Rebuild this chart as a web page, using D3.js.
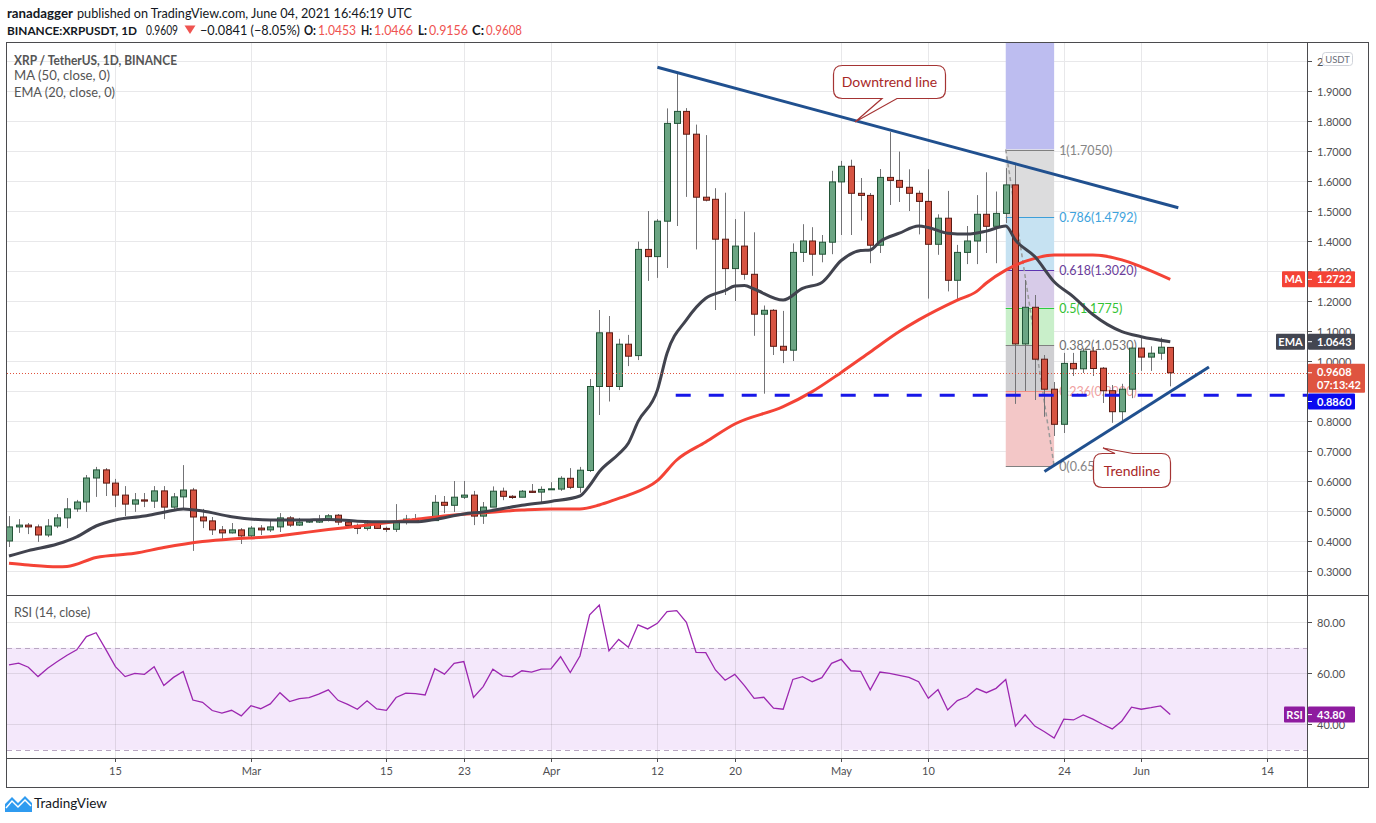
<!DOCTYPE html>
<html><head><meta charset="utf-8">
<script src="https://cdn.jsdelivr.net/npm/d3@7"></script>
<style>
body{margin:0;background:#fff;}
svg{display:block;}
text{font-family:Lato,"Open Sans",sans-serif;}
</style>
</head><body>
<svg id="c" width="1376" height="823"></svg>
<script>
// ---------------- DATA ----------------
const startDate = "2021-02-04";
const endDate = "2021-06-04";
const open = [0.400,0.447,0.453,0.447,0.420,0.450,0.477,0.507,0.530,0.610,0.637,
0.593,0.553,0.523,0.537,0.533,0.567,0.513,0.547,0.570,0.480,0.467,0.437,0.427,0.437,
0.417,0.443,0.437,0.447,0.477,0.453,0.463,0.463,0.473,0.486,0.463,0.452,0.442,0.457,0.442,0.439,0.463,0.473,0.473,0.468,0.529,0.519,0.546,0.553,0.483,0.513,0.566,0.549,0.546,0.566,0.563,
0.572,0.573,0.609,0.579,0.635,0.915,1.094,0.915,1.056,1.018,1.372,1.348,1.466,1.792,1.832,1.756,1.546,1.539,1.406,1.308,1.383,1.289,1.156,1.169,1.049,1.036,1.362,1.400,1.356,1.396,
1.597,1.649,1.559,1.552,1.386,1.612,1.602,1.579,1.559,1.532,1.389,1.476,1.269,1.362,1.400,1.489,1.449,1.492,1.587,1.057,1.179,1.006,0.906,0.789,0.992,0.974,1.033,0.976,0.901,0.831,0.906,
1.043,1.013,1.026,1.0453];
const high = [0.483,0.473,0.460,0.455,0.473,0.490,0.543,0.537,0.620,0.647,0.643,
0.607,0.583,0.560,0.560,0.583,0.583,0.560,0.653,0.577,0.507,0.480,0.450,0.460,0.443,
0.450,0.453,0.470,0.493,0.483,0.477,0.470,0.487,0.490,0.490,0.470,0.458,0.470,0.465,0.448,0.523,0.487,0.490,0.478,0.553,0.550,0.600,0.600,0.567,0.530,0.582,0.578,0.553,0.570,0.590,0.582,
0.596,0.616,0.643,0.647,0.940,1.170,1.150,1.074,1.087,1.398,1.500,1.473,1.842,1.957,1.843,1.788,1.753,1.576,1.561,1.473,1.498,1.429,1.185,1.173,1.167,1.392,1.456,1.446,1.420,1.634,
1.667,1.671,1.610,1.560,1.640,1.763,1.698,1.639,1.568,1.639,1.489,1.567,1.387,1.450,1.553,1.629,1.565,1.643,1.653,1.270,1.220,1.020,0.930,1.027,1.027,1.042,1.047,0.980,0.920,0.924,1.049,
1.080,1.049,1.078,1.0466];
const low = [0.380,0.427,0.423,0.397,0.413,0.443,0.443,0.497,0.497,0.547,0.550,
0.513,0.483,0.497,0.513,0.510,0.473,0.503,0.510,0.367,0.443,0.420,0.407,0.425,0.390,
0.410,0.420,0.430,0.430,0.447,0.450,0.460,0.460,0.465,0.453,0.443,0.423,0.435,0.440,0.430,0.430,0.455,0.465,0.465,0.468,0.493,0.497,0.540,0.453,0.457,0.513,0.536,0.540,0.546,0.560,0.527,
0.570,0.567,0.573,0.561,0.630,0.820,0.865,0.903,0.983,1.003,1.267,1.277,1.310,1.450,1.547,1.372,1.532,1.170,1.220,1.200,1.271,1.084,0.891,1.020,0.993,1.000,1.330,1.284,1.329,1.356,
1.420,1.420,1.468,1.326,1.360,1.520,1.530,1.500,1.422,1.208,1.354,1.232,1.207,1.323,1.323,1.360,1.326,1.460,0.857,0.900,0.870,0.814,0.750,0.760,0.950,0.960,0.950,0.860,0.794,0.802,0.876,
0.967,0.967,1.004,0.9156];
const close = [0.447,0.453,0.447,0.420,0.450,0.477,0.507,0.530,0.610,0.637,0.593,
0.553,0.523,0.537,0.533,0.567,0.513,0.547,0.570,0.480,0.467,0.437,0.427,0.437,0.417,
0.443,0.437,0.447,0.477,0.453,0.463,0.467,0.470,0.484,0.463,0.452,0.442,0.457,0.442,0.439,0.463,0.473,0.468,0.468,0.529,0.519,0.546,0.553,0.483,0.513,0.566,0.549,0.545,0.566,0.562,0.572,
0.574,0.609,0.579,0.636,0.915,1.094,0.915,1.056,1.016,1.372,1.348,1.466,1.792,1.832,1.756,1.546,1.536,1.406,1.308,1.383,1.289,1.156,1.169,1.049,1.036,1.362,1.400,1.356,1.396,1.597,
1.649,1.559,1.552,1.386,1.612,1.602,1.579,1.559,1.532,1.389,1.476,1.269,1.362,1.400,1.489,1.449,1.492,1.587,1.057,1.179,1.006,0.906,0.789,0.992,0.974,1.033,0.975,0.901,0.831,0.906,1.043,
1.013,1.026,1.046,0.9608];
const rsi = [63.3,64.0,62.4,58.7,62.0,64.6,67.1,69.2,74.4,75.9,69.4,
62.6,58.7,60.0,59.6,62.6,55.2,58.4,60.7,49.5,48.6,45.4,44.4,45.5,43.3,
47.3,46.1,48.0,52.4,48.9,50.1,50.5,51.8,53.5,49.4,47.8,45.9,49.2,46.0,45.5,50.5,52.2,52.0,51.5,61.8,59.7,63.9,64.6,50.5,54.8,61.6,59.0,58.6,61.0,60.5,61.6,
61.7,66.5,60.3,66.8,82.9,86.8,68.8,73.3,70.2,79.0,77.4,79.6,84.2,84.6,80.0,68.2,
68.1,61.3,57.3,59.6,55.2,50.2,50.6,46.3,45.9,57.6,58.7,56.7,58.3,63.9,
65.5,61.0,60.8,53.5,60.5,60.0,59.2,58.4,56.7,50.2,53.6,45.6,49.3,50.8,54.0,52.4,54.1,57.6,39.3,43.7,39.3,37.1,34.6,42.0,41.7,43.7,42.0,40.0,38.2,41.3,46.7,
45.9,46.5,47.2,43.8];
const maDates = ["2021-02-04","2021-02-06","2021-02-09","2021-02-10","2021-02-13","2021-02-17","2021-02-20","2021-02-24","2021-02-27","2021-03-03","2021-03-06","2021-03-09","2021-03-12","2021-03-15","2021-03-18","2021-03-22","2021-03-25","2021-03-29","2021-04-01","2021-04-04","2021-04-06","2021-04-08","2021-04-09","2021-04-12","2021-04-14","2021-04-17","2021-04-20","2021-04-25","2021-04-28","2021-05-01","2021-05-04","2021-05-07","2021-05-09","2021-05-13","2021-05-15","2021-05-16","2021-05-18","2021-05-21","2021-05-23","2021-05-27","2021-05-30","2021-06-01","2021-06-04"];
const maValues = [0.326,0.320,0.314,0.315,0.345,0.359,0.378,0.398,0.407,0.414,0.426,0.438,0.449,0.461,0.472,0.487,0.494,0.503,0.507,0.507,0.520,0.542,0.553,0.601,0.670,0.730,0.790,0.848,0.898,0.962,1.030,1.098,1.137,1.203,1.232,1.260,1.303,1.342,1.353,1.353,1.337,1.314,1.2722];
const emaDates = ["2021-02-04","2021-02-06","2021-02-09","2021-02-11","2021-02-13","2021-02-15","2021-02-18","2021-02-20","2021-02-22","2021-02-24","2021-02-27","2021-03-03","2021-03-06","2021-03-09","2021-03-12","2021-03-15","2021-03-18","2021-03-20","2021-03-23","2021-03-25","2021-03-29","2021-04-01","2021-04-04","2021-04-05","2021-04-06","2021-04-08","2021-04-09","2021-04-10","2021-04-12","2021-04-13","2021-04-15","2021-04-17","2021-04-19","2021-04-20","2021-04-21","2021-04-22","2021-04-25","2021-04-27","2021-04-29","2021-05-01","2021-05-03","2021-05-04","2021-05-05","2021-05-07","2021-05-09","2021-05-10","2021-05-12","2021-05-14","2021-05-16","2021-05-18","2021-05-19","2021-05-21","2021-05-23","2021-05-25","2021-05-27","2021-05-30","2021-06-01","2021-06-04"];
const emaValues = [0.350,0.368,0.390,0.414,0.450,0.470,0.483,0.496,0.507,0.500,0.481,0.470,0.470,0.472,0.466,0.464,0.464,0.472,0.490,0.497,0.519,0.532,0.550,0.585,0.631,0.690,0.726,0.798,0.903,1.026,1.137,1.209,1.235,1.250,1.252,1.240,1.203,1.242,1.262,1.335,1.368,1.370,1.398,1.426,1.450,1.445,1.426,1.423,1.433,1.450,1.403,1.348,1.264,1.214,1.155,1.098,1.081,1.0643];
const priceTicks = [0.3,0.4,0.5,0.6,0.7,0.8,0.9,1.0,1.1,1.2,1.3,1.4,1.5,1.6,1.7,1.8,1.9,2.0];
const rsiTicks = [40,60,80];
const timeTickDates = ["2021-02-15","2021-03-01","2021-03-15","2021-03-23","2021-04-01","2021-04-12","2021-04-20","2021-05-01","2021-05-10","2021-05-24","2021-06-01","2021-06-14"];
const timeTickLabels = ["15","Mar","15","23","Apr","12","20","May","10","24","Jun","14"];
const fibLevels = [1,0.786,0.618,0.5,0.382,0.236,0];
const fibPrices = [1.7050,1.4792,1.3020,1.1775,1.0530,0.8990,0.6500];
const fibStart = "2021-05-18", fibEnd = "2021-05-23";
const downtrend = {d1:"2021-04-12", p1:1.979, d2:"2021-06-04T20:00", p2:1.511};
const trendline = {d1:"2021-05-22", p1:0.632, d2:"2021-06-08", p2:0.980};
const supportLevel = 0.886, supportStart = "2021-04-14";
const lastPrice = 0.9608, maLast = 1.2722, emaLast = 1.0643, rsiLast = 43.80;

// ---------------- LAYOUT ----------------
const W=1376,H=823, L=7, R=1307, T=43, MB=595, RB=758, AB=787, OR=1369;
const svg = d3.select("#c");
svg.append("rect").attr("width",W).attr("height",H).attr("fill","#fff");

const parse = s => new Date(s.length>10 ? s+":00Z" : s+"T00:00:00Z");
const days = d3.utcDay.range(parse(startDate), d3.utcDay.offset(parse(endDate),1));
const ref = parse("2021-02-15");
const x = d3.scaleUtc().domain([new Date(+ref - 11.206*864e5), new Date(+ref + 123.13*864e5)]).range([L,R]);
const y = d3.scaleLinear().domain([0.22,2.06]).range([MB,T]);
const yr = d3.scaleLinear().domain([26.78,90.71]).range([RB,MB]);

const defs = svg.append("defs");
defs.append("clipPath").attr("id","cm").append("rect").attr("x",L).attr("y",T).attr("width",R-L).attr("height",MB-T);
defs.append("clipPath").attr("id","cr").append("rect").attr("x",L).attr("y",MB).attr("width",R-L).attr("height",RB-MB);

const gridC = "#e8e8ea";
const gMain = svg.append("g").attr("clip-path","url(#cm)");
gMain.selectAll(".hg").data(priceTicks).join("line").attr("x1",L).attr("x2",R)
  .attr("y1",d=>Math.round(y(d))+0.5).attr("y2",d=>Math.round(y(d))+0.5).attr("stroke",gridC);
gMain.selectAll(".vg").data(timeTickDates).join("line").attr("y1",T).attr("y2",MB)
  .attr("x1",d=>Math.round(x(parse(d)))+0.5).attr("x2",d=>Math.round(x(parse(d)))+0.5).attr("stroke",gridC);

// RSI pane
const gR = svg.append("g").attr("clip-path","url(#cr)");
gR.append("rect").attr("x",L).attr("width",R-L).attr("y",yr(70)).attr("height",yr(30)-yr(70)).attr("fill","#f4e8fb");
gR.selectAll(".rh").data(rsiTicks).join("line").attr("x1",L).attr("x2",R)
  .attr("y1",d=>Math.round(yr(d))+0.5).attr("y2",d=>Math.round(yr(d))+0.5).attr("stroke","rgba(0,0,0,0.09)");
gR.selectAll(".rv").data(timeTickDates).join("line").attr("y1",MB).attr("y2",RB)
  .attr("x1",d=>Math.round(x(parse(d)))+0.5).attr("x2",d=>Math.round(x(parse(d)))+0.5).attr("stroke","rgba(0,0,0,0.09)");
gR.selectAll(".rd").data([70,30]).join("line").attr("x1",L).attr("x2",R)
  .attr("y1",d=>Math.round(yr(d))+0.5).attr("y2",d=>Math.round(yr(d))+0.5)
  .attr("stroke","#b9a7c2").attr("stroke-dasharray","5,4");
gR.append("path").datum(rsi).attr("fill","none").attr("stroke","#9c27b0").attr("stroke-width",1.3)
  .attr("d", d3.line().x((d,i)=>x(days[i])).y(d=>yr(d)));

// ---------------- FIB ----------------
const gF = svg.append("g").attr("clip-path","url(#cm)");
const fx1 = x(parse(fibStart)), fx2 = x(parse(fibEnd));
const bandColors = ["#dcdcdd","#c6e2f2","#d7cbe8","#c9efca","#cfcfd2","#f3c7c7"];
gF.append("rect").attr("x",fx1).attr("width",fx2-fx1).attr("y",T).attr("height",y(fibPrices[0])-T).attr("fill","#bdbdf0");
for(let i=0;i<fibPrices.length-1;i++){
  gF.append("rect").attr("x",fx1).attr("width",fx2-fx1).attr("y",y(fibPrices[i]))
    .attr("height",y(fibPrices[i+1])-y(fibPrices[i])).attr("fill",bandColors[i]);
}
const lineColors = ["#808080","#3d9fd9","#5e35b1","#2ecc40","#808080","#f28b82","#808080"];
const labelColors = ["#858585","#3ea3dd","#6a3d9a","#33c233","#707070","#f0a0a0","#858585"];
fibLevels.forEach((lv,i)=>{
  const yy = Math.round(y(fibPrices[i]))+0.5;
  gF.append("line").attr("x1",fx1).attr("x2",fx2).attr("y1",yy).attr("y2",yy).attr("stroke",lineColors[i]).attr("stroke-width",1);
  gF.append("text").attr("x",fx2+5).attr("y",yy+4.5).attr("font-size",12.5).attr("fill",labelColors[i])
    .text(`${lv}(${fibPrices[i].toFixed(4)})`);
});
gF.append("line").attr("x1",fx1).attr("y1",y(fibPrices[0])).attr("x2",fx2).attr("y2",y(fibPrices[fibPrices.length-1]))
  .attr("stroke","#9a9a9a").attr("stroke-width",1.5).attr("stroke-dasharray","4,3");

// ---------------- CANDLES ----------------
const gC = svg.append("g").attr("clip-path","url(#cm)");
const bw = 6;
days.forEach((d,i)=>{
  const cx = Math.round(x(d))+0.5;
  const up = close[i] >= open[i];
  gC.append("line").attr("x1",cx).attr("x2",cx).attr("y1",y(high[i])).attr("y2",y(low[i])).attr("stroke","#737376").attr("stroke-width",1);
  const top = y(Math.max(open[i],close[i])), bot = y(Math.min(open[i],close[i]));
  gC.append("rect").attr("x",cx-bw/2).attr("width",bw).attr("y",top).attr("height",Math.max(1,bot-top))
    .attr("fill", up ? "#6ba583" : "#d75442").attr("stroke", up ? "#225437" : "#5b1a13").attr("stroke-width",1);
});

// ---------------- MA / EMA ----------------
const maPts = maDates.map((d,i)=>({d:parse(d),v:maValues[i]}));
const emaPts = emaDates.map((d,i)=>({d:parse(d),v:emaValues[i]}));
const ln = d3.line().x(p=>x(p.d)).y(p=>y(p.v)).curve(d3.curveMonotoneX);
gC.append("path").datum(maPts).attr("d",ln).attr("fill","none").attr("stroke","#f44336").attr("stroke-width",3).attr("stroke-linejoin","round");
gC.append("path").datum(emaPts).attr("d",ln).attr("fill","none").attr("stroke","#41434e").attr("stroke-width",3).attr("stroke-linejoin","round");

// ---------------- DRAWINGS ----------------
gC.append("line").attr("x1",x(parse(supportStart))-1).attr("x2",R).attr("y1",y(supportLevel)).attr("y2",y(supportLevel))
  .attr("stroke","#1717e8").attr("stroke-width",3).attr("stroke-dasharray","15,18");
gC.append("line").attr("x1",L).attr("x2",R).attr("y1",Math.round(y(lastPrice))+0.5).attr("y2",Math.round(y(lastPrice))+0.5)
  .attr("stroke","#e0533d").attr("stroke-width",1).attr("stroke-dasharray","1,2");
gC.append("line").attr("x1",x(parse(downtrend.d1))).attr("y1",y(downtrend.p1)).attr("x2",x(parse(downtrend.d2))).attr("y2",y(downtrend.p2))
  .attr("stroke","#20508f").attr("stroke-width",3);
gC.append("line").attr("x1",x(parse(trendline.d1))).attr("y1",y(trendline.p1)).attr("x2",x(parse(trendline.d2))).attr("y2",y(trendline.p2))
  .attr("stroke","#20508f").attr("stroke-width",3);

function callout(x1,y1,x2,y2,r,edge,b1,b2,tx,ty,label){
  let p;
  if(edge==="bottom"){
    p=`M${x1+r},${y1}H${x2-r}Q${x2},${y1} ${x2},${y1+r}V${y2-r}Q${x2},${y2} ${x2-r},${y2}H${b2}L${tx},${ty}L${b1},${y2}H${x1+r}Q${x1},${y2} ${x1},${y2-r}V${y1+r}Q${x1},${y1} ${x1+r},${y1}Z`;
  } else {
    p=`M${x1+r},${y1}H${b1}L${tx},${ty}L${b2},${y1}H${x2-r}Q${x2},${y1} ${x2},${y1+r}V${y2-r}Q${x2},${y2} ${x2-r},${y2}H${x1+r}Q${x1},${y2} ${x1},${y2-r}V${y1+r}Q${x1},${y1} ${x1+r},${y1}Z`;
  }
  svg.append("path").attr("d",p).attr("fill","#fff").attr("stroke","#a53434").attr("stroke-width",1.2);
  svg.append("text").attr("x",(x1+x2)/2).attr("y",(y1+y2)/2+5).attr("text-anchor","middle")
    .attr("font-size",14).attr("fill","#a82828").text(label);
}
callout(833.5,65.5,945.5,98.5,9,"bottom",882,897,855,122,"Downtrend line");
callout(1093.5,453.5,1170.5,487.5,9,"top",1115,1133,1103,448,"Trendline");

// ---------------- AXES / FRAME ----------------
svg.append("rect").attr("x",R+1).attr("y",T).attr("width",OR-R-1).attr("height",AB-T).attr("fill","#fff");
svg.append("rect").attr("x",L).attr("y",RB+1).attr("width",R-L).attr("height",AB-RB-1).attr("fill","#fff");
const axC="#4f4f52";
const gA = svg.append("g");
const hiddenTicks = [0.9];   // covered by the price labels in the reference
priceTicks.forEach(p=>{
  const yy=Math.round(y(p))+0.5;
  gA.append("line").attr("x1",R).attr("x2",R+5).attr("y1",yy).attr("y2",yy).attr("stroke",axC);
  if(hiddenTicks.includes(p)) return;
  const lbl = p===2.0 ? "2" : p.toFixed(4);   // rest hidden under the USDT box
  gA.append("text").attr("x",R+10).attr("y",yy+4).attr("font-size",11).attr("fill",axC).text(lbl);
});
rsiTicks.forEach(v=>{
  const yy=Math.round(yr(v))+0.5;
  gA.append("line").attr("x1",R).attr("x2",R+5).attr("y1",yy).attr("y2",yy).attr("stroke",axC);
  gA.append("text").attr("x",R+10).attr("y",yy+4).attr("font-size",11).attr("fill",axC).text(v.toFixed(2));
});
timeTickDates.forEach((d,i)=>{
  const xx=Math.round(x(parse(d)))+0.5;
  gA.append("line").attr("x1",xx).attr("x2",xx).attr("y1",RB).attr("y2",RB+4).attr("stroke",axC);
  gA.append("text").attr("x",xx).attr("y",775).attr("text-anchor","middle").attr("font-size",11).attr("fill",axC).text(timeTickLabels[i]);
});
gA.append("rect").attr("x",1322.5).attr("y",52.5).attr("width",30).attr("height",13).attr("rx",3).attr("fill","#fff").attr("stroke","#d0d3da");
gA.append("text").attr("x",1337.5).attr("y",62.5).attr("text-anchor","middle").attr("font-size",9.5).attr("fill","#6a6d78").text("USDT");

function axisLabel(val,yc,fill,name,nameX,extra){
  const h = extra ? 29 : 16;
  const top = extra ? yc-9 : yc-8;
  gA.append("rect").attr("x",R+1).attr("y",top).attr("width",extra?57:47).attr("height",h).attr("rx",1).attr("fill",fill);
  gA.append("line").attr("x1",R+1).attr("x2",R+5).attr("y1",yc).attr("y2",yc).attr("stroke","#fff");
  gA.append("text").attr("x",R+10).attr("y",top+12).attr("font-size",11).attr("font-weight",700).attr("fill","#fff").text(val);
  if(extra) gA.append("text").attr("x",R+10).attr("y",top+25).attr("font-size",11).attr("font-weight",700).attr("fill","#fff").text(extra);
  if(name){
    gA.append("rect").attr("x",nameX).attr("y",top).attr("width",R-2-nameX).attr("height",h).attr("rx",1).attr("fill",fill);
    gA.append("text").attr("x",(nameX+R-2)/2).attr("y",top+12).attr("text-anchor","middle").attr("font-size",11).attr("font-weight",700).attr("fill","#fff").text(name);
  }
}
axisLabel(maLast.toFixed(4), y(maLast), "#f44336", "MA", 1282);
axisLabel(emaLast.toFixed(4), y(emaLast), "#434651", "EMA", 1276);
axisLabel(lastPrice.toFixed(4), y(lastPrice), "#df5440", null, 0, "07:13:42");
axisLabel(supportLevel.toFixed(4), 401.5, "#0a0af0", null, 0);
axisLabel(rsiLast.toFixed(2), yr(rsiLast), "#8e1b9f", "RSI", 1284);

// frame
const fr = svg.append("g").attr("stroke","#4b4b4e").attr("stroke-width",1).attr("fill","none");
fr.append("rect").attr("x",6.5).attr("y",42.5).attr("width",OR-6.5-0.5).attr("height",AB-42.5+0.5);
fr.append("line").attr("x1",6.5).attr("x2",OR).attr("y1",MB+0.5).attr("y2",MB+0.5);
fr.append("line").attr("x1",6.5).attr("x2",OR).attr("y1",RB+0.5).attr("y2",RB+0.5);
fr.append("line").attr("x1",R+0.5).attr("x2",R+0.5).attr("y1",T).attr("y2",AB);

// ---------------- TEXTS ----------------
function seg(txt,x0,x1,yb,opts={}){
  const t = svg.append("text").attr("x",x0).attr("y",yb).attr("font-size",opts.size||13.5)
    .attr("fill",opts.fill||"#131722").attr("textLength",x1-x0).attr("lengthAdjust","spacingAndGlyphs").text(txt);
  if(opts.bold) t.attr("font-weight",700);
  return t;
}
seg("ranadagger",7,73,18,{bold:true,size:13});
seg("published on TradingView.com, June 04, 2021 16:46:19 UTC",77,412,18);
seg("BINANCE:XRPUSDT, 1D",7,137,35,{bold:true,size:12});
seg("0.9609",146,178,35);
svg.append("path").attr("d","M184.5,25.5 L195.5,25.5 L190,34 Z").attr("fill","#ef5350");
seg("\u22120.0841 (\u22128.05%)",200,300,35);
const ohlc=[["O:",304,316,"1.0453",318,356],["H:",361,372,"1.0466",374,413],["L:",418,427,"0.9156",429,468],["C:",472,484,"0.9608",486,522]];
ohlc.forEach(o=>{
  seg(o[0],o[1],o[2],35,{bold:true,size:13});
  seg(o[3],o[4],o[5],35,{fill:"#ef5350"});
});
seg("XRP / TetherUS, 1D, BINANCE",14,177,65,{bold:true,size:12.5,fill:"#555"});
seg("MA (50, close, 0)",14,110,80,{size:12.5,fill:"#555"});
seg("EMA (20, close, 0)",14,115,97,{size:12.5,fill:"#555"});
svg.append("text").attr("x",14).attr("y",617).attr("font-size",12.5).attr("fill","#555").text("RSI (14, close)");

// TradingView logo
const lg = svg.append("g");
lg.append("path").attr("d","M5,812 L5,804 L12,797 L18,803 L25,796 L32,803 L32,812 Z").attr("fill","#2f9bf0");
lg.append("path").attr("d","M6,808 L12,801 L18,807 L25,800 L31,806").attr("fill","none").attr("stroke","#fff").attr("stroke-width",1.5);
svg.append("text").attr("x",34).attr("y",808).attr("font-size",13.5).attr("fill","#131722").text("TradingView");
</script>
</body></html>
